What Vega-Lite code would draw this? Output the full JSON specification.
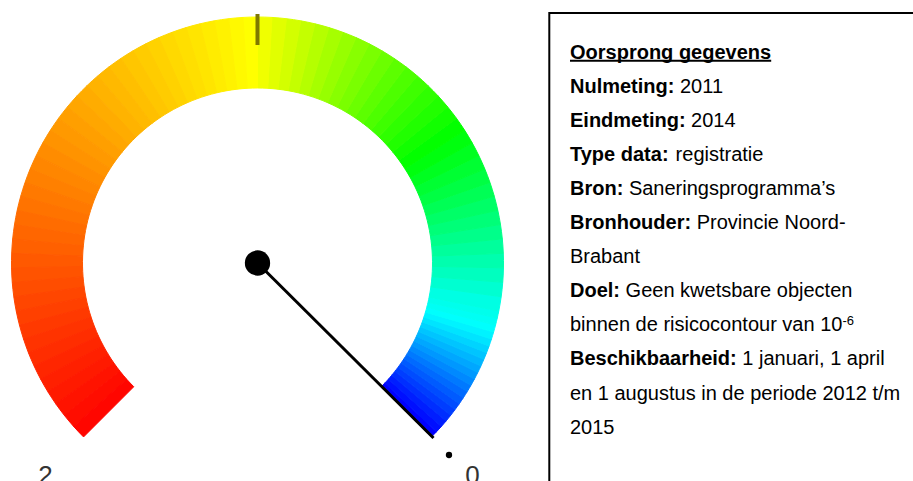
{
  "$schema": "https://vega.github.io/schema/vega-lite/v6.json",
  "width": 913,
  "height": 481,
  "autosize": {"type": "none"},
  "padding": 0,
  "background": "white",
  "config": {"view": {"stroke": null}},
  "datasets": {
    "seg": [
      {"v0":0,"v1":0.0125},{"v0":0.0125,"v1":0.025},{"v0":0.025,"v1":0.0375},{"v0":0.0375,"v1":0.05},
      {"v0":0.05,"v1":0.0625},{"v0":0.0625,"v1":0.075},{"v0":0.075,"v1":0.0875},{"v0":0.0875,"v1":0.1},
      {"v0":0.1,"v1":0.1125},{"v0":0.1125,"v1":0.125},{"v0":0.125,"v1":0.1375},{"v0":0.1375,"v1":0.15},
      {"v0":0.15,"v1":0.1625},{"v0":0.1625,"v1":0.175},{"v0":0.175,"v1":0.1875},{"v0":0.1875,"v1":0.2},
      {"v0":0.2,"v1":0.2125},{"v0":0.2125,"v1":0.225},{"v0":0.225,"v1":0.2375},{"v0":0.2375,"v1":0.25},
      {"v0":0.25,"v1":0.275},{"v0":0.275,"v1":0.3},
      {"v0":0.3,"v1":0.325},{"v0":0.325,"v1":0.35},{"v0":0.35,"v1":0.375},{"v0":0.375,"v1":0.4},
      {"v0":0.4,"v1":0.425},{"v0":0.425,"v1":0.45},{"v0":0.45,"v1":0.475},{"v0":0.475,"v1":0.5},
      {"v0":0.5,"v1":0.525},{"v0":0.525,"v1":0.55},{"v0":0.55,"v1":0.575},{"v0":0.575,"v1":0.6},
      {"v0":0.6,"v1":0.625},{"v0":0.625,"v1":0.65},{"v0":0.65,"v1":0.675},{"v0":0.675,"v1":0.7},
      {"v0":0.7,"v1":0.725},{"v0":0.725,"v1":0.75},{"v0":0.75,"v1":0.775},{"v0":0.775,"v1":0.8},
      {"v0":0.8,"v1":0.825},{"v0":0.825,"v1":0.85},{"v0":0.85,"v1":0.875},{"v0":0.875,"v1":0.9},
      {"v0":0.9,"v1":0.925},{"v0":0.925,"v1":0.95},{"v0":0.95,"v1":0.975},{"v0":0.975,"v1":1},
      {"v0":1,"v1":1.025},{"v0":1.025,"v1":1.05},{"v0":1.05,"v1":1.075},{"v0":1.075,"v1":1.1},
      {"v0":1.1,"v1":1.125},{"v0":1.125,"v1":1.15},{"v0":1.15,"v1":1.175},{"v0":1.175,"v1":1.2},
      {"v0":1.2,"v1":1.225},{"v0":1.225,"v1":1.25},{"v0":1.25,"v1":1.275},{"v0":1.275,"v1":1.3},
      {"v0":1.3,"v1":1.325},{"v0":1.325,"v1":1.35},{"v0":1.35,"v1":1.375},{"v0":1.375,"v1":1.4},
      {"v0":1.4,"v1":1.425},{"v0":1.425,"v1":1.45},{"v0":1.45,"v1":1.475},{"v0":1.475,"v1":1.5},
      {"v0":1.5,"v1":1.525},{"v0":1.525,"v1":1.55},{"v0":1.55,"v1":1.575},{"v0":1.575,"v1":1.6},
      {"v0":1.6,"v1":1.625},{"v0":1.625,"v1":1.65},{"v0":1.65,"v1":1.675},{"v0":1.675,"v1":1.7},
      {"v0":1.7,"v1":1.725},{"v0":1.725,"v1":1.75},{"v0":1.75,"v1":1.775},{"v0":1.775,"v1":1.8},
      {"v0":1.8,"v1":1.825},{"v0":1.825,"v1":1.85},{"v0":1.85,"v1":1.875},{"v0":1.875,"v1":1.9},
      {"v0":1.9,"v1":1.925},{"v0":1.925,"v1":1.95},{"v0":1.95,"v1":1.975},{"v0":1.975,"v1":2}
    ],
    "bold": [
      {"x":312.5,"y":204.5,"t":"Oorsprong gegevens"},
      {"x":312.5,"y":170.4,"t":"Nulmeting:"},
      {"x":312.5,"y":136.3,"t":"Eindmeting:"},
      {"x":312.5,"y":102.2,"t":"Type data:"},
      {"x":312.5,"y":68.1,"t":"Bron:"},
      {"x":312.5,"y":34.0,"t":"Bronhouder:"},
      {"x":312.5,"y":-34.2,"t":"Doel:"},
      {"x":312.5,"y":-102.4,"t":"Beschikbaarheid:"}
    ],
    "regular": [
      {"x":422.5,"y":170.4,"t":"2011"},
      {"x":433.6,"y":136.3,"t":"2014"},
      {"x":418.1,"y":102.2,"t":"registratie"},
      {"x":371.4,"y":68.1,"t":"Saneringsprogramma’s"},
      {"x":439.2,"y":34.0,"t":"Provincie Noord-"},
      {"x":312.5,"y":-0.1,"t":"Brabant"},
      {"x":368.1,"y":-34.2,"t":"Geen kwetsbare objecten"},
      {"x":312.5,"y":-68.3,"t":"binnen de risicocontour van 10"},
      {"x":484.8,"y":-102.4,"t":"1 januari, 1 april"},
      {"x":312.5,"y":-136.5,"t":"en 1 augustus in de periode 2012 t/m"},
      {"x":312.5,"y":-170.6,"t":"2015"}
    ]
  },
  "layer": [
    {
      "data": {"name": "seg"},
      "mark": {"type": "arc", "radius": 246, "radius2": 175, "strokeWidth": 1},
      "encoding": {
        "x": {"datum": 0, "type": "quantitative", "scale": {"domain": [-257.5, 655.5], "nice": false, "zero": false}, "axis": null},
        "y": {"datum": 0, "type": "quantitative", "scale": {"domain": [-218, 263], "nice": false, "zero": false}, "axis": null},
        "theta": {"field": "v0", "type": "quantitative", "stack": null, "scale": {"domain": [0, 2], "range": [2.356194, -2.356194]}},
        "theta2": {"field": "v1"},
        "color": {"field": "v0", "type": "quantitative", "legend": null, "scale": {"domain": [0, 0.21, 0.57, 1, 2], "range": ["#0000ff", "#00ffff", "#00ff00", "#ffff00", "#ff0000"], "interpolate": "rgb"}},
        "stroke": {"field": "v0", "type": "quantitative", "legend": null, "scale": {"domain": [0, 0.21, 0.57, 1, 2], "range": ["#0000ff", "#00ffff", "#00ff00", "#ffff00", "#ff0000"], "interpolate": "rgb"}}
      }
    },
    {
      "data": {"values": [{"x": 0, "y": 218, "y2": 249}]},
      "mark": {"type": "rule", "color": "#7f7800", "strokeWidth": 4},
      "encoding": {
        "x": {"field": "x", "type": "quantitative", "scale": {"domain": [-257.5, 655.5], "nice": false, "zero": false}, "axis": null},
        "y": {"field": "y", "type": "quantitative", "scale": {"domain": [-218, 263], "nice": false, "zero": false}, "axis": null},
        "y2": {"field": "y2"}
      }
    },
    {
      "data": {"values": [{"x": 0, "y": 0, "x2": 176, "y2": -175}]},
      "mark": {"type": "rule", "color": "black", "strokeWidth": 3},
      "encoding": {
        "x": {"field": "x", "type": "quantitative", "scale": {"domain": [-257.5, 655.5], "nice": false, "zero": false}, "axis": null},
        "y": {"field": "y", "type": "quantitative", "scale": {"domain": [-218, 263], "nice": false, "zero": false}, "axis": null},
        "x2": {"field": "x2"},
        "y2": {"field": "y2"}
      }
    },
    {
      "data": {"values": [{"x": 0, "y": 0, "s": "center"}, {"x": 191.5, "y": -192, "s": "end"}]},
      "mark": {"type": "point", "filled": true, "color": "black", "opacity": 1},
      "encoding": {
        "x": {"field": "x", "type": "quantitative", "scale": {"domain": [-257.5, 655.5], "nice": false, "zero": false}, "axis": null},
        "y": {"field": "y", "type": "quantitative", "scale": {"domain": [-218, 263], "nice": false, "zero": false}, "axis": null},
        "size": {"field": "s", "type": "nominal", "legend": null, "scale": {"domain": ["center", "end"], "range": [640, 40]}}
      }
    },
    {
      "data": {"values": [{"x": -212, "y": -220.5, "t": "2"}, {"x": 215, "y": -220.5, "t": "0"}]},
      "mark": {"type": "text", "font": "Liberation Sans", "fontSize": 26, "align": "center", "baseline": "alphabetic", "color": "#333333"},
      "encoding": {
        "x": {"field": "x", "type": "quantitative", "scale": {"domain": [-257.5, 655.5], "nice": false, "zero": false}, "axis": null},
        "y": {"field": "y", "type": "quantitative", "scale": {"domain": [-218, 263], "nice": false, "zero": false}, "axis": null},
        "text": {"field": "t"}
      }
    },
    {
      "data": {"values": [{"x": 291.8, "x2": 700, "y": 250, "y2": -300}]},
      "mark": {"type": "rect", "fill": "transparent", "stroke": "black", "strokeWidth": 2, "clip": true},
      "encoding": {
        "x": {"field": "x", "type": "quantitative", "scale": {"domain": [-257.5, 655.5], "nice": false, "zero": false}, "axis": null},
        "y": {"field": "y", "type": "quantitative", "scale": {"domain": [-218, 263], "nice": false, "zero": false}, "axis": null},
        "x2": {"field": "x2"},
        "y2": {"field": "y2"}
      }
    },
    {
      "data": {"values": [{"x": 312.5, "x2": 513.7, "y": 202.3}]},
      "mark": {"type": "rule", "color": "black", "strokeWidth": 2},
      "encoding": {
        "x": {"field": "x", "type": "quantitative", "scale": {"domain": [-257.5, 655.5], "nice": false, "zero": false}, "axis": null},
        "y": {"field": "y", "type": "quantitative", "scale": {"domain": [-218, 263], "nice": false, "zero": false}, "axis": null},
        "x2": {"field": "x2"}
      }
    },
    {
      "data": {"name": "bold"},
      "mark": {"type": "text", "font": "Liberation Sans", "fontSize": 20, "fontWeight": "bold", "align": "left", "baseline": "alphabetic", "color": "black"},
      "encoding": {
        "x": {"field": "x", "type": "quantitative", "scale": {"domain": [-257.5, 655.5], "nice": false, "zero": false}, "axis": null},
        "y": {"field": "y", "type": "quantitative", "scale": {"domain": [-218, 263], "nice": false, "zero": false}, "axis": null},
        "text": {"field": "t"}
      }
    },
    {
      "data": {"name": "regular"},
      "mark": {"type": "text", "font": "Liberation Sans", "fontSize": 20, "align": "left", "baseline": "alphabetic", "color": "black"},
      "encoding": {
        "x": {"field": "x", "type": "quantitative", "scale": {"domain": [-257.5, 655.5], "nice": false, "zero": false}, "axis": null},
        "y": {"field": "y", "type": "quantitative", "scale": {"domain": [-218, 263], "nice": false, "zero": false}, "axis": null},
        "text": {"field": "t"}
      }
    },
    {
      "data": {"values": [{"x": 584.9, "y": -62.3, "t": "-6"}]},
      "mark": {"type": "text", "font": "Liberation Sans", "fontSize": 13, "align": "left", "baseline": "alphabetic", "color": "black"},
      "encoding": {
        "x": {"field": "x", "type": "quantitative", "scale": {"domain": [-257.5, 655.5], "nice": false, "zero": false}, "axis": null},
        "y": {"field": "y", "type": "quantitative", "scale": {"domain": [-218, 263], "nice": false, "zero": false}, "axis": null},
        "text": {"field": "t"}
      }
    }
  ]
}
